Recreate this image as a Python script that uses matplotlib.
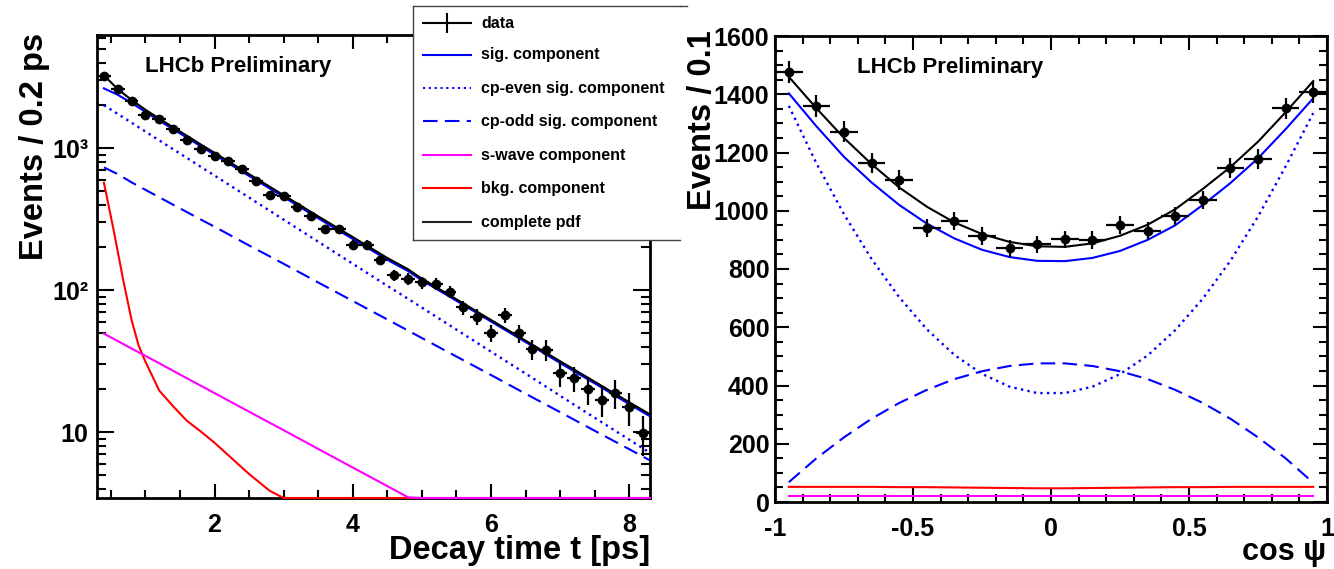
import numpy as np
import matplotlib
matplotlib.use('Agg')
import matplotlib.pyplot as plt
from matplotlib.ticker import FixedLocator, FixedFormatter, MultipleLocator, NullFormatter, LogLocator
from matplotlib.lines import Line2D

plt.rcParams['font.family'] = ['Liberation Sans', 'DejaVu Sans']
plt.rcParams['font.weight'] = 'bold'
plt.rcParams['axes.unicode_minus'] = False

# ---------------- decay-time panel data ----------------
t_bins = [0.4, 0.6, 0.8, 1.0, 1.2, 1.4, 1.6, 1.8, 2.0, 2.2, 2.4, 2.6, 2.8, 3.0, 3.2, 3.4,
          3.6, 3.8, 4.0, 4.2, 4.4, 4.6, 4.8, 5.0, 5.2, 5.4, 5.6, 5.8, 6.0, 6.2, 6.4, 6.6,
          6.8, 7.0, 7.2, 7.4, 7.6, 7.8, 8.0, 8.2]
t_counts = [3230, 2600, 2140, 1710, 1600, 1355, 1140, 984, 879, 815, 711, 589, 467, 461, 382, 330,
            270, 267, 209, 209, 162, 127, 120, 113, 111, 97, 75.5, 65, 50, 67, 49.5, 38.5,
            38, 26, 24, 20, 16.8, 18.9, 14.9, 9.9]
t_errors = [56.8, 51.0, 46.3, 41.4, 40.0, 36.8, 33.8, 31.4, 29.6, 28.5, 26.7, 24.3, 21.6, 21.5, 19.5, 18.2,
            16.4, 16.3, 14.5, 14.5, 12.7, 11.3, 11.0, 10.6, 10.5, 9.8, 8.7, 8.1, 7.1, 8.2, 7.0, 6.2,
            6.2, 5.1, 4.9, 4.5, 4.1, 4.3, 3.9, 3.1]
t_curve = [0.4, 0.6, 0.8, 1.0, 1.2, 1.4, 1.6, 1.8, 2.0, 2.5, 3.0, 3.5, 4.0, 4.5, 4.8, 5.0,
           5.5, 6.0, 6.5, 7.0, 7.5, 8.0, 8.3]
t_total = [3250, 2600, 2180, 1860, 1610, 1400, 1220, 1060, 925, 655, 465, 330, 236, 168, 140, 120,
           86, 61.5, 44, 31.5, 22.6, 16.2, 13.3]
t_sig = [2630, 2370, 2080, 1795, 1560, 1358, 1184, 1029, 898, 636, 452, 320, 229, 163, 136, 117,
         84, 60, 43, 30.6, 22, 15.7, 12.9]
t_even = [2000, 1740, 1507, 1306, 1132, 982, 851, 738, 640, 448, 313, 219, 153, 107, 86.7, 75.2,
          52.6, 36.8, 25.8, 18.0, 12.6, 8.83, 7.13]
t_odd = [730, 655, 573, 508, 450, 399, 354, 314, 279, 206, 153, 113, 83.7, 62.0, 51.8, 45.9,
         34.0, 25.2, 18.6, 13.8, 10.2, 7.57, 6.31]
t_swave = [49.3, 43.7, 38.7, 34.4, 30.5, 27.0, 23.9, 21.2, 18.8, 13.9, 10.3, 7.60, 5.62, 4.16, 3.47, 3.08,
           2.28, 1.68, 1.25, 0.93, 0.69, 0.51, 0.42]
t_bkg_x = [0.4, 0.54, 0.68, 0.8, 0.9, 1.0, 1.2, 1.4, 1.6, 1.8, 2.0, 2.5, 2.8, 3.0, 4.0, 5.0, 6.0, 7.0, 8.0, 8.3]
t_bkg = [570, 265, 117, 61.5, 41, 31.3, 19.6, 15.2, 12.0, 10.1, 8.4, 5.06, 3.85, 3.3, 1.3, 0.6, 0.3, 0.15, 0.08, 0.06]
t_ytick_vals = [10, 100, 1000]
t_ytick_labels = ['10', '10²', '10³']

# ---------------- cos(psi) panel data ----------------
c_bins = [-0.95, -0.85, -0.75, -0.65, -0.55, -0.45, -0.35, -0.25, -0.15, -0.05,
          0.05, 0.15, 0.25, 0.35, 0.45, 0.55, 0.65, 0.75, 0.85, 0.95]
c_counts = [1477, 1360, 1272, 1165, 1106, 942, 966, 914, 871, 885,
            902, 900, 951, 932, 982, 1037, 1146, 1177, 1352, 1407]
c_errors = [38.4, 36.9, 35.7, 34.1, 33.3, 30.7, 31.1, 30.2, 29.5, 29.7,
            30.0, 30.0, 30.8, 30.5, 31.3, 32.2, 33.9, 34.3, 36.8, 37.5]
c_total = [1460, 1352, 1250, 1160, 1080, 1014, 960, 920, 893, 878,
           876, 888, 914, 952, 1005, 1075, 1150, 1237, 1338, 1445]
c_sig = [1403, 1290, 1185, 1097, 1020, 956, 905, 866, 841, 828,
         827, 838, 862, 900, 950, 1020, 1095, 1180, 1280, 1386]
c_even = [1360, 1163, 988, 834, 703, 593, 505, 440, 396, 374,
          374, 396, 439, 503, 590, 698, 828, 980, 1152, 1335]
c_odd = [68, 150, 222, 286, 340, 385, 422, 449, 467, 476,
         476, 467, 449, 422, 385, 340, 286, 222, 150, 66]
c_bkg = [52, 52, 52, 52, 51, 51, 50, 49, 48, 47,
         47, 48, 49, 50, 51, 51, 52, 52, 52, 52]
c_swave = [22, 22, 22, 22, 22, 22, 22, 22, 22, 22,
           22, 22, 22, 22, 22, 22, 22, 22, 22, 22]
c_xtick_vals = [-1, -0.5, 0, 0.5, 1]
c_xtick_labels = ['-1', '-0.5', '0', '0.5', '1']

legend_labels = ['data', 'sig. component', 'cp-even sig. component', 'cp-odd sig. component',
                 's-wave component', 'bkg. component', 'complete pdf']

# ---------------- styles ----------------
BLUE = '#0000ff'
RED = '#ff0000'
MAG = '#ff00ff'
LW = 1.5
DOT = (0, (1, 1.8))
DASH = (0, (7, 3.5))

W, H = 1334, 569
fig = plt.figure(figsize=(W / 100, H / 100), dpi=100)
fig.patch.set_facecolor('white')


def fx(px):
    return px / W


def fy(py):
    return 1 - py / H


def style_axes(ax):
    for s in ax.spines.values():
        s.set_linewidth(2.0)
    ax.tick_params(which='both', direction='in', top=True, right=True, width=1.5,
                   labelsize=18)
    ax.tick_params(which='major', length=10)
    ax.tick_params(which='minor', length=5.5)
    for lab in ax.get_xticklabels() + ax.get_yticklabels():
        lab.set_fontweight('bold')


# ---------------- left panel ----------------
axL = fig.add_axes([fx(97), fy(498), fx(650) - fx(97), fy(35) - fy(498)])
ylo_L, yhi_L = 3.43, 6250
axL.set_yscale('log')
axL.set_xlim(0.3, 8.3)
axL.set_ylim(ylo_L, yhi_L)

axL.plot(t_bkg_x, np.maximum(np.array(t_bkg), ylo_L), color=RED, lw=LW, zorder=3, clip_on=False)
axL.plot(t_curve, np.maximum(np.array(t_swave), ylo_L), color=MAG, lw=LW, zorder=3.1, clip_on=False)
axL.plot(t_curve, t_odd, color=BLUE, lw=LW, ls=DASH, zorder=3)
axL.plot(t_curve, t_even, color=BLUE, lw=1.7, ls=DOT, zorder=3)
axL.plot(t_curve, t_sig, color=BLUE, lw=LW, zorder=3)
axL.plot(t_curve, t_total, color='black', lw=LW, zorder=3.2)
axL.errorbar(t_bins, t_counts, yerr=t_errors, xerr=0.1, fmt='o', color='black',
             ms=6, elinewidth=1.6, capsize=0, zorder=4)

axL.xaxis.set_major_locator(MultipleLocator(2))
axL.xaxis.set_minor_locator(MultipleLocator(0.5))
axL.yaxis.set_major_locator(FixedLocator(t_ytick_vals))
axL.yaxis.set_major_formatter(FixedFormatter(t_ytick_labels))
axL.yaxis.set_minor_locator(LogLocator(base=10, subs=np.arange(2, 10)))
axL.yaxis.set_minor_formatter(NullFormatter())
style_axes(axL)
axL.tick_params(axis='y', which='major', length=12, pad=6)
axL.tick_params(axis='y', which='minor', length=6.5)
axL.tick_params(axis='x', which='major', pad=11)
axL.text(0.087, 0.92, 'LHCb Preliminary', transform=axL.transAxes, fontsize=16,
         fontweight='bold', va='baseline', ha='left')

# ---------------- right panel ----------------
axR = fig.add_axes([fx(775), fy(502), fx(1327) - fx(775), fy(36) - fy(502)])
axR.set_xlim(-1, 1)
axR.set_ylim(0, 1600)
axR.plot(c_bins, c_bkg, color=RED, lw=LW, zorder=3)
axR.plot(c_bins, c_swave, color=MAG, lw=LW, zorder=3)
axR.plot(c_bins, c_odd, color=BLUE, lw=LW, ls=DASH, zorder=3)
axR.plot(c_bins, c_even, color=BLUE, lw=1.7, ls=DOT, zorder=3)
axR.plot(c_bins, c_sig, color=BLUE, lw=LW, zorder=3)
axR.plot(c_bins, c_total, color='black', lw=LW, zorder=3.2)
axR.errorbar(c_bins, c_counts, yerr=c_errors, xerr=0.05, fmt='o', color='black',
             ms=6, elinewidth=1.6, capsize=0, zorder=4)
axR.xaxis.set_major_locator(FixedLocator(c_xtick_vals))
axR.xaxis.set_major_formatter(FixedFormatter(c_xtick_labels))
axR.xaxis.set_minor_locator(MultipleLocator(0.1))
axR.yaxis.set_major_locator(MultipleLocator(200))
axR.yaxis.set_minor_locator(MultipleLocator(50))
style_axes(axR)
axR.tick_params(axis='y', which='major', pad=4)
axR.tick_params(axis='x', which='major', pad=11)
axR.text(0.1486, 0.9206, 'LHCb Preliminary', transform=axR.transAxes, fontsize=16,
         fontweight='bold', va='baseline', ha='left')

# ---------------- axis titles ----------------
fig.text(fx(50), fy(33), 'Events / 0.2 ps', rotation=90, ha='right', va='top',
         fontsize=23.5, fontweight='bold')
fig.text(fx(650), fy(559), 'Decay time t [ps]', ha='right', va='baseline',
         fontsize=23.5, fontweight='bold')
fig.text(fx(718), fy(30), 'Events / 0.1', rotation=90, ha='right', va='top',
         fontsize=23.5, fontweight='bold')
fig.text(fx(1326), fy(560), 'cos ψ', ha='right', va='baseline',
         fontsize=22, fontweight='bold')

# ---------------- legend box ----------------
L0, L1, T0, T1 = 413, 680, 6, 240
axLeg = fig.add_axes([fx(L0), fy(T1), fx(L1) - fx(L0), fy(T0) - fy(T1)], zorder=10)
axLeg.set_facecolor('white')
axLeg.set_xlim(L0, L1)
axLeg.set_ylim(T1, T0)
axLeg.set_xticks([])
axLeg.set_yticks([])
for name, s in axLeg.spines.items():
    s.set_linewidth(1.0)
    s.set_color('#444444')
axLeg.spines['right'].set_visible(False)
fig.add_artist(Line2D([fx(L1), fx(687)], [fy(T0), fy(T0)], color='#444444', lw=1.0, zorder=11))

entry_y = [23, 55, 88, 121, 155, 188, 222]
xs0, xs1, xt = 423, 471, 481
# data: cross
axLeg.plot([xs0, xs1], [entry_y[0], entry_y[0]], color='black', lw=1.5)
axLeg.plot([(xs0 + xs1) / 2] * 2, [entry_y[0] - 9, entry_y[0] + 9], color='black', lw=1.5)
leg_styles = [(BLUE, '-'), (BLUE, DOT), (BLUE, DASH), (MAG, '-'), (RED, '-'), ('#222222', '-')]
for (col, ls), yy in zip(leg_styles, entry_y[1:]):
    axLeg.plot([xs0, xs1], [yy, yy], color=col, ls=ls, lw=LW)
for lab, yy in zip(legend_labels, entry_y):
    axLeg.text(xt, yy, lab, fontsize=11.5, fontweight='bold', va='center', ha='left')

fig.savefig('out.png', dpi=100, facecolor='white')
